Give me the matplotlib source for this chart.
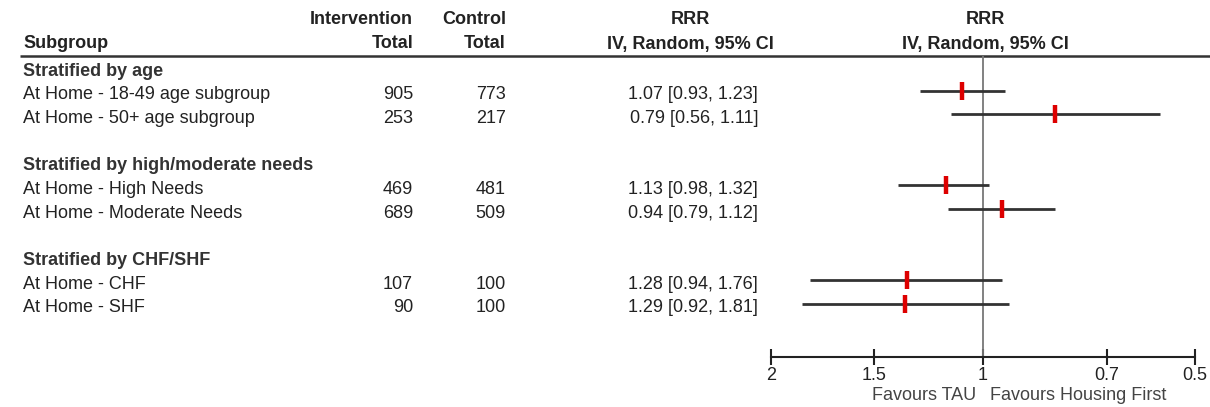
import matplotlib
matplotlib.use("Agg")
import matplotlib.pyplot as plt

plt.rcParams["font.family"] = ["Liberation Sans", "DejaVu Sans"]

# Data
sections = ["Stratified by age", "Stratified by high/moderate needs", "Stratified by CHF/SHF"]
subgroups = [
    ["At Home - 18-49 age subgroup", "At Home - 50+ age subgroup"],
    ["At Home - High Needs", "At Home - Moderate Needs"],
    ["At Home - CHF", "At Home - SHF"],
]
intervention_total = [905, 253, 469, 689, 107, 90]
control_total = [773, 217, 481, 509, 100, 100]
rrr = [1.07, 0.79, 1.13, 0.94, 1.28, 1.29]
ci_low = [0.93, 0.56, 0.98, 0.79, 0.94, 0.92]
ci_high = [1.23, 1.11, 1.32, 1.12, 1.76, 1.81]

tick_values = [2, 1 / 0.7, 1, 1 / 1.5, 0.5]
tick_labels = ["2", "1.5", "1", "0.7", "0.5"]

W, H = 1210, 407
fig = plt.figure(figsize=(W / 100, H / 100), dpi=100)
fs = 13
txt = "#222222"

# background axes in pixel coordinates for the table part
ax = fig.add_axes([0, 0, 1, 1])
ax.set_xlim(0, W)
ax.set_ylim(H, 0)
ax.axis("off")

# headers
ax.text(413, 20, "Intervention", ha="right", va="center", fontsize=fs, fontweight="bold", color=txt)
ax.text(413, 44, "Total", ha="right", va="center", fontsize=fs, fontweight="bold", color=txt)
ax.text(506, 20, "Control", ha="right", va="center", fontsize=fs, fontweight="bold", color=txt)
ax.text(506, 44, "Total", ha="right", va="center", fontsize=fs, fontweight="bold", color=txt)
ax.text(23, 44, "Subgroup", ha="left", va="center", fontsize=fs, fontweight="bold", color=txt)
for cx in (690, 985):
    ax.text(cx, 20, "RRR", ha="center", va="center", fontsize=fs, fontweight="bold", color=txt)
    ax.text(cx, 44, "IV, Random, 95% CI", ha="center", va="center", fontsize=fs, fontweight="bold", color=txt)
ax.plot([20, W], [56, 56], color="#333333", lw=1.8, solid_capstyle="butt")

# row layout
y0, pitch = 71, 23.7
row = 0
ys = []
for s, items in zip(sections, subgroups):
    ax.text(23, y0 + pitch * row, s, ha="left", va="center", fontsize=fs, fontweight="bold", color="#333333")
    row += 1
    for name in items:
        y = y0 + pitch * row
        ys.append(y)
        ax.text(23, y, name, ha="left", va="center", fontsize=fs, color=txt)
        row += 1
    row += 1

for i, y in enumerate(ys):
    ax.text(413, y, str(intervention_total[i]), ha="right", va="center", fontsize=fs, color=txt)
    ax.text(506, y, str(control_total[i]), ha="right", va="center", fontsize=fs, color=txt)
    ax.text(758, y, f"{rrr[i]:.2f} [{ci_low[i]:.2f}, {ci_high[i]:.2f}]",
            ha="right", va="center", fontsize=fs, color=txt)

ax.text(976, 396, "Favours TAU", ha="right", va="center", fontsize=fs, color="#444444")
ax.text(990, 396, "Favours Housing First", ha="left", va="center", fontsize=fs, color="#444444")

# forest axes
x_left, x_right, y_top, y_bot = 771, 1195, 56, 357
fa = fig.add_axes([x_left / W, (H - y_bot) / H, (x_right - x_left) / W, (y_bot - y_top) / H])
fa.patch.set_alpha(0)
fa.set_xscale("log")
fa.set_xlim(2, 0.5)
fa.set_ylim(y_bot, y_top)
for sp in ["top", "left", "right"]:
    fa.spines[sp].set_visible(False)
fa.spines["bottom"].set_linewidth(1.5)
fa.spines["bottom"].set_color("#222222")
fa.set_yticks([])
fa.xaxis.set_minor_locator(matplotlib.ticker.NullLocator())
fa.set_xticks(tick_values)
fa.set_xticklabels(tick_labels)
fa.tick_params(axis="x", direction="inout", length=11, width=1.5, color="#222222",
               labelsize=fs, labelcolor=txt, pad=2)

fa.axvline(1, color="#777777", lw=1.3)
for i, y in enumerate(ys):
    fa.plot([ci_low[i], ci_high[i]], [y - 4, y - 4], color="#333333", lw=2, solid_capstyle="butt")
    fa.plot([rrr[i]], [y - 4], marker="|", markersize=13, markeredgewidth=3.2, color="#dd0000")

fig.savefig("out.png", dpi=100)
